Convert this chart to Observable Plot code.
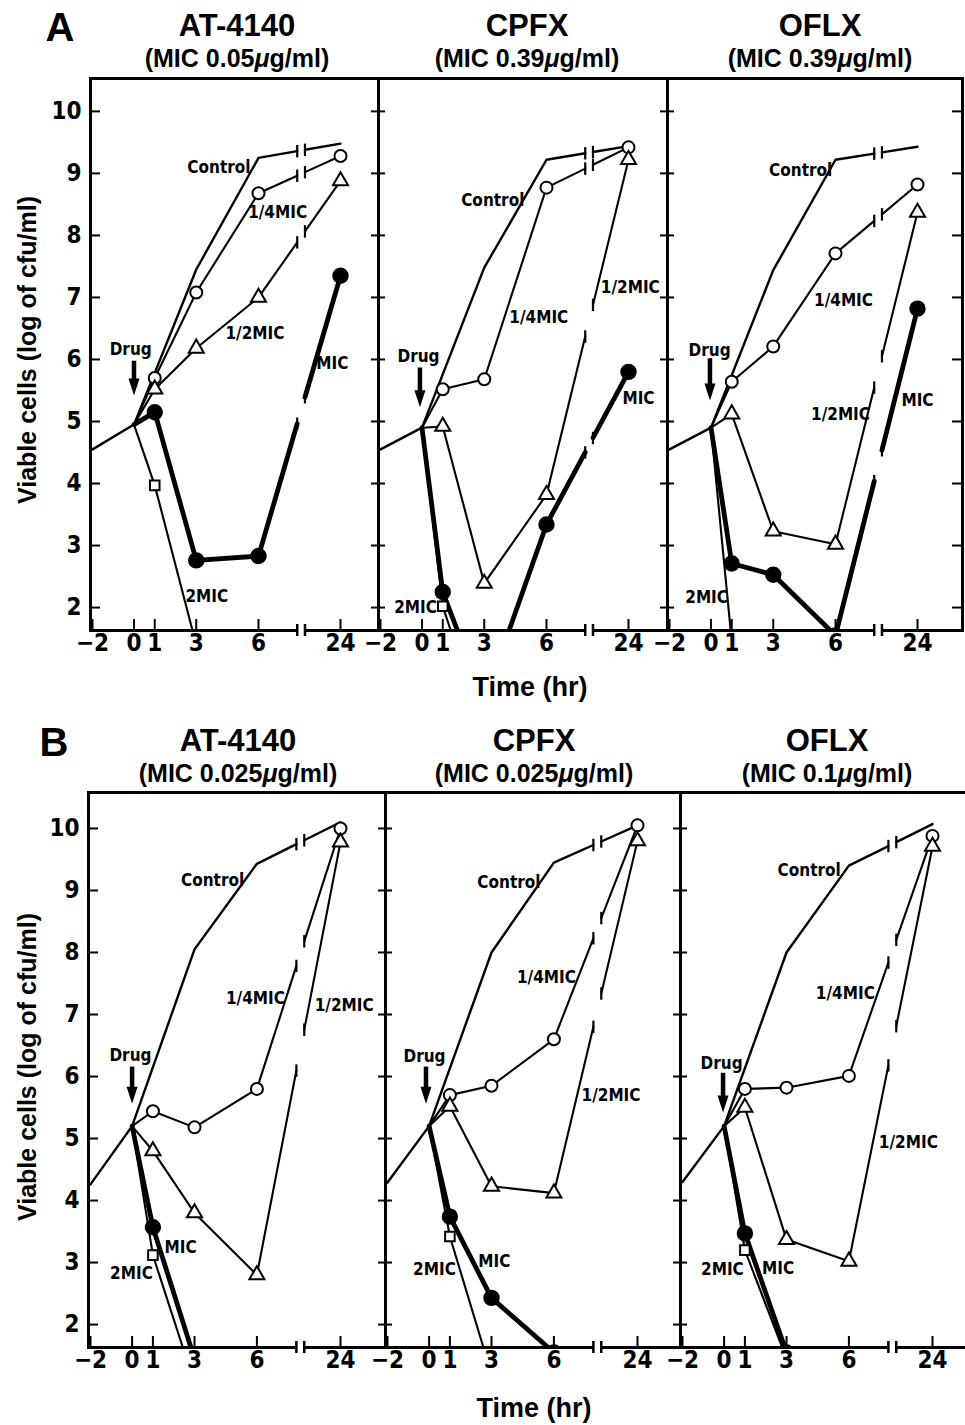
<!DOCTYPE html>
<html>
<head>
<meta charset="utf-8">
<script src="https://cdn.jsdelivr.net/npm/d3@7"></script>
<script src="https://cdn.jsdelivr.net/npm/@observablehq/plot@0.6"></script>
<style>
  html, body { margin: 0; padding: 0; background: #fff; }
  #root { position: relative; width: 965px; height: 1425px; overflow: hidden; background: #fff;
          font-family: "Liberation Sans", Arial, sans-serif; color: #000; }
  .t { position: absolute; font-weight: bold; white-space: nowrap; transform: translate(-50%, -50%); line-height: 1; }
  .rot { transform: translate(-50%, -50%) rotate(-90deg); }
  svg { position: absolute; }
</style>
</head>
<body>
<div id="root"></div>
<script>
// ---------------- DATA ----------------
const hours = [-2, 0, 1, 3, 6, 24];
const xTickLabels = ["\u22122", "0", "1", "3", "6", "24"];
const yTickValues = [2, 3, 4, 5, 6, 7, 8, 9, 10];
const drugNames = ["AT-4140", "CPFX", "OFLX"];
const micRowA = ["0.05", "0.39", "0.39"];
const micRowB = ["0.025", "0.025", "0.1"];
const seriesKeys = ["control", "quarter", "half", "mic", "twice"];
const seriesLabels = ["Control", "1/4MIC", "1/2MIC", "MIC", "2MIC"];

// log cfu/ml at hours -2, 0, 1, 3, 6, 24 (null = no point)
// Row A
const A1_control = [4.55, 4.95, null, 7.45, 9.25, 9.48];
const A1_quarter = [null, 4.95, 5.70, 7.08, 8.68, 9.28];
const A1_half    = [null, 4.95, 5.52, 6.18, 7.00, 8.88];
const A1_mic     = [null, 4.95, 5.15, 2.76, 2.83, 7.35];
const A1_twice   = [null, 4.95, 3.97, 1.40, null, null];

const A2_control = [4.55, 4.90, null, 7.48, 9.22, 9.44];
const A2_quarter = [null, 4.90, 5.52, 5.68, 8.77, 9.42];
const A2_half    = [null, 4.90, 4.92, 2.39, 3.82, 9.22];
const A2_mic     = [null, 4.90, 2.25, 0.50, 3.34, 5.80];
const A2_twice   = [null, 4.90, 2.02, 0.00, null, null];

const A3_control = [4.55, 4.90, null, 7.44, 9.22, 9.43];
const A3_quarter = [null, 4.90, 5.64, 6.21, 7.71, 8.82];
const A3_half    = [null, 4.90, 5.12, 3.23, 3.02, 8.37];
const A3_mic     = [null, 4.90, 2.71, 2.53, 1.55, 6.82];
const A3_twice   = [null, 4.90, 1.45, null, null, null];

// Row B
const B1_control = [4.26, 5.20, null, 8.05, 9.43, 10.10];
const B1_quarter = [null, 5.20, 5.44, 5.18, 5.80, 10.00];
const B1_half    = [null, 5.20, 4.80, 3.80, 2.80, 9.78];
const B1_mic     = [null, 5.20, 3.57, 1.45, null, null];
const B1_twice   = [null, 5.20, 3.12, 1.05, null, null];

const B2_control = [4.29, 5.20, null, 8.00, 9.45, 10.05];
const B2_quarter = [null, 5.20, 5.70, 5.85, 6.60, 10.05];
const B2_half    = [null, 5.20, 5.52, 4.23, 4.12, 9.80];
const B2_mic     = [null, 5.20, 3.74, 2.43, 1.55, null];
const B2_twice   = [null, 5.20, 3.42, 1.20, null, null];

const B3_control = [4.30, 5.20, null, 8.00, 9.40, 10.07];
const B3_quarter = [null, 5.20, 5.80, 5.82, 6.01, 9.88];
const B3_half    = [null, 5.20, 5.50, 3.37, 3.02, 9.71];
const B3_mic     = [null, 5.20, 3.47, 1.55, null, null];
const B3_twice   = [null, 5.20, 3.20, 1.45, null, null];

// annotation placements (in data units: hours, log cfu/ml)
const A1_notes = [["Control", 4.09, 9.10], ["1/4MIC", 10.2, 8.37], ["1/2MIC", 5.83, 6.42], ["MIC", 22.2, 5.94], ["2MIC", 3.51, 2.18], ["Drug", -0.16, 6.16]];
const A2_notes = [["Control", 3.41, 8.56], ["1/4MIC", 5.63, 6.68], ["1/2MIC", 24.4, 7.16], ["MIC", 26.2, 5.37], ["2MIC", -0.31, 2.0], ["Drug", -0.17, 6.05]];
const A3_notes = [["Control", 4.32, 9.05], ["1/4MIC", 7.76, 6.95], ["1/2MIC", 7.1, 5.11], ["MIC", 24.0, 5.34], ["2MIC", -0.21, 2.16], ["Drug", -0.07, 6.15]];
const B1_notes = [["Control", 3.87, 9.16], ["1/4MIC", 5.93, 7.26], ["1/2MIC", 24.8, 7.15], ["MIC", 2.33, 3.24], ["2MIC", -0.03, 2.82], ["Drug", -0.08, 6.34]];
const B2_notes = [["Control", 3.84, 9.13], ["1/4MIC", 5.64, 7.6], ["1/2MIC", 18.3, 5.69], ["MIC", 3.14, 3.02], ["2MIC", 0.26, 2.89], ["Drug", -0.22, 6.32]];
const B3_notes = [["Control", 4.09, 9.32], ["1/4MIC", 5.83, 7.34], ["1/2MIC", 18.8, 4.94], ["MIC", 2.6, 2.9], ["2MIC", -0.08, 2.89], ["Drug", -0.12, 6.21]];
// drug-addition arrows: [hour, top, tip]
const A_arrows = [[0, 5.98, 5.42], [-0.1, 5.87, 5.23], [-0.05, 6.02, 5.34]];
const B_arrows = [[0, 6.16, 5.56], [-0.15, 6.16, 5.56], [-0.05, 6.06, 5.42]];

// ---------------- LAYOUT / STYLE ----------------
const NARROW = '"Liberation Sans Narrow", "Arial Narrow", "DejaVu Sans Condensed", "Liberation Sans", sans-serif';
const BREAK = [14.5, 16.2]; // axis break (hours, between 6 and 24)
const seriesStyle = {
  control: {sw: 2.4},
  quarter: {sw: 2.1, symbol: "circle", r: 6, fill: "white"},
  half:    {sw: 2.1, symbol: "triangle", r: 5.6, fill: "white"},
  mic:     {sw: 4.8, symbol: "circle", r: 7.2, fill: "black"},
  twice:   {sw: 2.1, symbol: "square", r: 5.4, fill: "white"}
};
const rows = [
  {top: 78, yDomain: [1.63, 10.53], H: 552, ppu: 20.75, x24: 250,
   lefts: [90, 378, 667], widths: [288, 289, 295],
   series: [[A1_control, A1_quarter, A1_half, A1_mic, A1_twice],
            [A2_control, A2_quarter, A2_half, A2_mic, A2_twice],
            [A3_control, A3_quarter, A3_half, A3_mic, A3_twice]],
   notes: [A1_notes, A2_notes, A3_notes], arrows: A_arrows,
   letter: "A", letterPos: [60, 27], mic: micRowA, titleX: [237, 527, 820], titleY: [25, 58],
   ylabelY: 350, xlabelPos: [530, 687]},
  {top: 792, yDomain: [1.63, 10.58], H: 555, ppu: 20.8, x24: 252,
   lefts: [88, 385, 680], widths: [297, 295, 297],
   series: [[B1_control, B1_quarter, B1_half, B1_mic, B1_twice],
            [B2_control, B2_quarter, B2_half, B2_mic, B2_twice],
            [B3_control, B3_quarter, B3_half, B3_mic, B3_twice]],
   notes: [B1_notes, B2_notes, B3_notes], arrows: B_arrows,
   letter: "B", letterPos: [54, 742], mic: micRowB, titleX: [238, 534, 827], titleY: [740, 773],
   ylabelY: 1067, xlabelPos: [534, 1408]}
];

const downHead = {draw(ctx) { ctx.moveTo(0, 0); ctx.lineTo(-5.5, -17); ctx.lineTo(5.5, -17); ctx.closePath(); }};

function toPoints(vals) {
  return hours.map((t, i) => ({t, v: vals[i]})).filter(d => d.v != null);
}
// split a series at the axis break (straight connection between last pre-break and 24 h point)
function splitAtBreak(pts) {
  const pre = pts.filter(p => p.t <= 6), post = pts.filter(p => p.t > 6);
  if (!post.length || !pre.length) return {segs: [pts], bars: []};
  const a = pre[pre.length - 1], b = post[0];
  const f = t => a.v + (b.v - a.v) * (t - a.t) / (b.t - a.t);
  const bars = BREAK.map(t => ({t, v: f(t)}));
  return {segs: [[...pre, bars[0]], [bars[1], ...post]], bars};
}

const root = document.getElementById("root");
function addText(html, x, y, size, extraClass = "", family = null) {
  const d = document.createElement("div");
  d.className = "t " + extraClass;
  d.style.left = x + "px"; d.style.top = y + "px"; d.style.fontSize = size + "px";
  if (family) d.style.fontFamily = family;
  d.innerHTML = html;
  root.appendChild(d);
}

const M = 40;
rows.forEach(row => {
  const [y0, y1] = row.yDomain;
  row.lefts.forEach((left, p) => {
    const W = row.widths[p], H = row.H;
    const x6 = 2 + 8 * row.ppu;
    const xEnd = 24 + (W - row.x24) / (row.x24 - x6) * 18;
    const marks = [];
    // series lines
    seriesKeys.forEach((k, s) => {
      const st = seriesStyle[k];
      const {segs, bars} = splitAtBreak(toPoints(row.series[p][s]));
      segs.forEach(seg => marks.push(Plot.line(seg, {x: "t", y: "v", stroke: "black", strokeWidth: st.sw, clip: true, strokeLinejoin: "round"})));
      if (bars.length) marks.push(Plot.link(bars, {x1: "t", x2: "t", y1: d => d.v - 0.1, y2: d => d.v + 0.1, stroke: "black", strokeWidth: 2.2}));
    });
    // markers (sampling times after drug addition)
    seriesKeys.forEach((k, s) => {
      const st = seriesStyle[k];
      if (!st.symbol) return;
      const pts = toPoints(row.series[p][s]).filter(d => d.t > 0);
      marks.push(Plot.dot(pts, {x: "t", y: "v", symbol: st.symbol, r: st.r, fill: st.fill, stroke: "black", strokeWidth: 2, clip: true}));
    });
    // frame with broken bottom axis
    marks.push(Plot.frame({stroke: "black", strokeWidth: 3}));
    marks.push(Plot.rect([BREAK], {x1: d => d[0], x2: d => d[1], y1: () => y0 - 0.06, y2: () => y0 + 0.06, fill: "white"}));
    marks.push(Plot.tickX(BREAK, {x: d => d, insetTop: H - 6, insetBottom: -6, stroke: "black", strokeWidth: 2.5}));
    // x ticks (inward) and labels
    marks.push(Plot.tickX(hours, {x: d => d, insetTop: H - 11, stroke: "black", strokeWidth: 2}));
    marks.push(Plot.text(hours, {x: d => d, text: (d, i) => xTickLabels[i], frameAnchor: "bottom", dy: 20,
      fontSize: 24, fontWeight: "bold", fontFamily: NARROW, fill: "black"}));
    // y ticks
    if (p === 0) {
      marks.push(Plot.tickY(yTickValues, {y: d => d, insetRight: W - 10, stroke: "black", strokeWidth: 2}));
      marks.push(Plot.text(yTickValues, {y: d => d, text: d => String(d), frameAnchor: "left", dx: -9, textAnchor: "end",
        fontSize: 24, fontWeight: "bold", fontFamily: NARROW, fill: "black"}));
    } else {
      marks.push(Plot.tickY(yTickValues, {y: d => d, insetLeft: -7, insetRight: W - 7, stroke: "black", strokeWidth: 2}));
    }
    if (p === 2) marks.push(Plot.tickY(yTickValues, {y: d => d, insetLeft: W - 10, stroke: "black", strokeWidth: 2}));
    // annotations
    const notes = row.notes[p].map(([text, t, v]) => ({text, t, v}));
    marks.push(Plot.text(notes, {x: "t", y: "v", text: "text", fontSize: 17, fontWeight: "bold", fontFamily: NARROW, fill: "black"}));
    const [at, atop, atip] = row.arrows[p];
    const arrow = [{t: at, top: atop, tip: atip}];
    marks.push(Plot.link(arrow, {x1: "t", x2: "t", y1: "top", y2: d => d.tip + 0.2, stroke: "black", strokeWidth: 4.5, strokeLinecap: "butt"}));
    marks.push(Plot.dot(arrow, {x: "t", y: "tip", symbol: downHead, fill: "black", stroke: "none"}));

    const svg = Plot.plot({
      width: W + 2 * M, height: H + 2 * M,
      marginTop: M, marginBottom: M, marginLeft: M, marginRight: M,
      style: {background: "transparent", overflow: "visible"},
      x: {type: "linear", domain: [-2, 6, 24, xEnd], range: [M + 2, M + x6, M + row.x24, M + W], axis: null},
      y: {domain: row.yDomain, axis: null},
      marks
    });
    svg.style.left = (left - M) + "px";
    svg.style.top = (row.top - M) + "px";
    root.appendChild(svg);

    addText(drugNames[p], row.titleX[p], row.titleY[0], 31);
    addText(`(MIC ${row.mic[p]}<i>\u03bc</i>g/ml)`, row.titleX[p], row.titleY[1], 25);
  });
  addText(row.letter, row.letterPos[0], row.letterPos[1], 40);
  addText("Viable cells (log of cfu/ml)", 27, row.ylabelY, 25, "rot");
  addText("Time (hr)", row.xlabelPos[0], row.xlabelPos[1], 27);
});
</script>
</body>
</html>
